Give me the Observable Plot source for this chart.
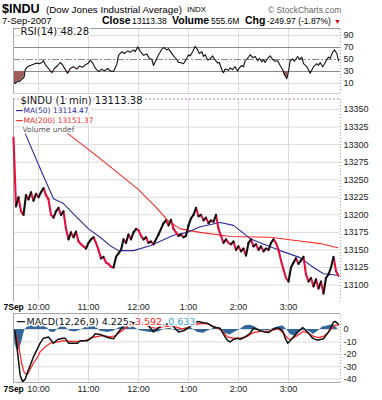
<!DOCTYPE html>
<html><head><meta charset="utf-8">
<script src="https://cdn.jsdelivr.net/npm/d3@7"></script>
<script src="https://cdn.jsdelivr.net/npm/@observablehq/plot@0.6"></script>
<style>
body{margin:0;background:#fff;width:382px;height:400px;overflow:hidden;font-family:"Liberation Sans",Arial,sans-serif;color:#000}
#hdr{position:relative;height:27px}
#hdr span{position:absolute;white-space:nowrap;line-height:1}
svg{display:block}
</style></head><body>
<div id="hdr">
<span style="left:2px;top:2.6px;font-size:12.5px;font-weight:bold">$INDU</span>
<span style="left:46px;top:5px;font-size:9.8px">(Dow Jones Industrial Average)</span>
<span style="left:187px;top:6.3px;font-size:8px">INDX</span>
<span style="left:268px;top:5.5px;font-size:8.5px;color:#666">© StockCharts.com</span>
<span style="left:2px;top:16px;font-size:9.5px">7-Sep-2007</span>
<span style="left:102px;top:15.3px;font-size:10.5px;font-weight:bold">Close</span>
<span style="left:132px;top:17px;font-size:8.5px">13113.38</span>
<span style="left:172px;top:15.3px;font-size:10.5px;font-weight:bold">Volume</span>
<span style="left:211px;top:17px;font-size:8.5px">555.6M</span>
<span style="left:245px;top:15.3px;font-size:10.5px;font-weight:bold">Chg</span>
<span style="left:267px;top:17px;font-size:8.5px">-249.97 (-1.87%)</span>
<span style="left:334px;top:17.5px;font-size:7px;color:#d00">▼</span>
</div>
<div id="c"></div>
<script>
// ---------- data ----------
const hours = [30, 90, 150, 210, 270, 330];           // minutes after 9:30 open
const hourLabels = ["10:00", "11:00", "12:00", "1:00", "2:00", "3:00"];
const dayLabel = "7Sep";

const priceTicks = [13100, 13125, 13150, 13175, 13200, 13225, 13250, 13275, 13300, 13325, 13350];
const rsiTicks = [90, 70, 50, 30, 10];
const macdTicks = [0, -10, -20, -30, -40];

// price, sampled every 3 minutes from the open (first value = opening print)
const priceStep = 3;
const priceClose = [
  13310, 13212, 13225, 13205, 13200, 13228, 13222, 13232, 13220, 13230,
  13225, 13232, 13238, 13228, 13222, 13200, 13196, 13205, 13210, 13200,
  13205, 13180, 13165, 13175, 13168, 13176, 13162, 13158, 13155, 13152,
  13160, 13165, 13168, 13160, 13150, 13138, 13140, 13132, 13130, 13126,
  13125, 13140, 13145, 13150, 13165, 13160, 13172, 13165, 13175, 13180,
  13178, 13170, 13165, 13168, 13160, 13162, 13158, 13165, 13172, 13180,
  13188, 13192, 13185, 13193, 13180, 13175, 13170, 13172, 13168, 13170,
  13185, 13195, 13200, 13210, 13198, 13200, 13192, 13196, 13188, 13192,
  13190, 13200, 13180, 13170, 13160, 13165, 13160, 13158, 13162, 13150,
  13155, 13148, 13152, 13142, 13160, 13165, 13155, 13158, 13150, 13155,
  13148, 13152, 13150, 13160, 13165, 13160, 13150, 13135, 13122, 13110,
  13105, 13125, 13132, 13138, 13130, 13135, 13140, 13115, 13105, 13110,
  13098, 13108, 13095, 13105, 13088, 13110, 13115, 13125, 13140, 13120,
  13113
];

const ma50Minute = [14, 32, 48, 60, 74, 90, 104, 116, 126, 144, 164, 192, 209, 224, 248, 264, 284, 305, 320, 344, 360, 372, 389];
const ma50Value  = [13316, 13266, 13223, 13216, 13199, 13180, 13168, 13156, 13149, 13149, 13156, 13171, 13175, 13183, 13189, 13185, 13166, 13156, 13149, 13139, 13125, 13116, 13114];

const ma200Minute = [65, 104, 149, 170, 185, 200, 224, 260, 308, 341, 368, 389];
const ma200Value  = [13316, 13280, 13237, 13212, 13192, 13180, 13175, 13169, 13168, 13163, 13159, 13153];

const rsiMinute = [
  1, 2, 5, 7, 10, 12, 13, 14, 17, 20,
  24, 28, 31, 34, 36, 38, 42, 46, 49, 53,
  56, 59, 61, 65, 68, 72, 76, 79, 83, 86,
  90, 92, 95, 98, 102, 106, 109, 113, 116, 120,
  124, 126, 130, 133, 137, 140, 144, 146, 149, 152,
  156, 160, 163, 166, 168, 172, 175, 178, 180, 184,
  186, 188, 192, 196, 198, 200, 204, 208, 210, 212,
  215, 218, 221, 223, 226, 228, 230, 233, 236, 239,
  241, 245, 247, 250, 252, 254, 258, 260, 263, 266,
  269, 271, 274, 276, 278, 281, 284, 287, 290, 293,
  295, 298, 300, 302, 305, 308, 311, 314, 317, 320,
  323, 325, 328, 330, 332, 335, 337, 341, 343, 346,
  348, 352, 354, 356, 360, 364, 366, 368, 371, 373,
  376, 378, 380, 383, 385, 388, 390
];
const rsiValue = [
  12, 10, 14, 13, 17, 19, 22, 33, 38, 40,
  42, 44, 43, 45, 48, 42, 35, 28, 35, 40,
  45, 41, 36, 27, 35, 38, 34, 39, 37, 41,
  44, 49, 44, 36, 30, 34, 31, 35, 31, 30,
  42, 57, 63, 60, 64, 62, 66, 63, 71, 64,
  57, 59, 52, 50, 40, 52, 60, 67, 70, 66,
  68, 64, 56, 50, 45, 45, 43, 52, 58, 56,
  63, 72, 66, 60, 63, 55, 58, 49, 51, 56,
  51, 44, 45, 33, 28, 34, 32, 36, 33, 38,
  31, 36, 40, 38, 48, 52, 58, 53, 55, 48,
  52, 46, 50, 45, 52, 56, 50, 47, 48, 40,
  33, 25, 18, 30, 48, 51, 47, 55, 50, 54,
  43, 38, 33, 27, 38, 43, 40, 45, 38, 42,
  50, 54, 52, 62, 66, 60, 48
];

const macdMinute = [0, 2, 5, 8, 11, 14, 17, 20, 24, 29, 32, 36, 42, 48, 53, 59, 62, 66, 72, 77, 80, 89, 95, 98, 104, 108, 113, 120, 126, 131, 134, 140, 146, 152, 156, 162, 168, 176, 182, 188, 194, 198, 204, 209, 216, 222, 228, 233, 240, 248, 253, 257, 260, 264, 269, 272, 278, 284, 288, 293, 296, 302, 306, 311, 317, 323, 326, 329, 332, 336, 341, 347, 353, 359, 362, 366, 372, 378, 382, 384, 386, 390];
const macdValue  = [0, -2, -19, -37, -42, -40, -34, -29, -22, -15, -11, -7, -6, -11, -8, -7, -7, -11, -11, -11, -9, -9, -6, -3.5, -4, -5, -6.5, -7.5, -2, 2, 5, 6, 5, 5, 5, 3, -2, 2.5, 4, 5, 1, -2, -1, 1, 5, 6.5, 5.5, 5, 2, 1, -5, -9, -10, -8, -7, -8, -6, -3, 1, 0, -1, -2, -2.5, 0, 1.5, -1, -7, -11, -9, -6, -2, 1.5, -2, -7, -8, -8.5, -7.5, -2, 3, 6, 6.5, 4.2];

const signalMinute = [0, 2, 6, 10, 13, 17, 20, 24, 29, 32, 38, 44, 53, 60, 68, 77, 86, 92, 101, 108, 116, 122, 128, 137, 144, 152, 158, 164, 170, 176, 182, 191, 197, 203, 210, 218, 224, 233, 240, 248, 253, 257, 263, 272, 281, 288, 296, 305, 311, 318, 324, 329, 332, 338, 348, 354, 360, 366, 372, 377, 382, 386, 390];
const signalValue  = [0, -2, -12, -28, -35, -36, -32, -27, -22, -18, -14, -11, -10, -9, -9.5, -9.5, -9, -7, -5.5, -5, -6, -5, -2, 2.5, 4.5, 4, 3.5, 2, 1, 1.5, 2.5, 3, 1.5, 0.5, 1.5, 4, 5, 4.5, 2.5, 0, -3, -6, -7, -7, -5.5, -2.5, -1.5, -1.5, -0.5, 0.5, -3, -7, -8, -6, -1.5, -3, -5.5, -6.5, -5.5, -3, 1, 3.5, 3.6];

const histMinute = [0, 2, 5, 7, 10, 12, 14, 18, 26, 35, 41, 44, 49, 53, 56, 62, 68, 74, 80, 89, 96, 101, 104, 113, 120, 126, 132, 138, 144, 152, 164, 174, 180, 188, 194, 200, 206, 212, 221, 228, 234, 242, 248, 254, 260, 266, 272, 278, 284, 290, 296, 306, 314, 323, 328, 332, 338, 344, 350, 356, 360, 366, 371, 378, 384, 389];
const histValue  = [0, -12, -18, -16, -10, -4, 0, 3, 4, 3.5, 1, -2, -2.5, 0, 2.5, 2, -1.5, -2, -0.5, 2.5, 3, 1, -1.5, -2.5, -1.5, 1, 3, 3, 2, -1, -2.5, -2, 0, 1, -1, -1, 1, 2, -2.5, -3, -1, 1.5, 1, -3, -4.5, -2, 0, 3, 3.5, 2, -0.5, -1, 1.5, 3, 0, -4, -5.5, -2, 0.5, -2, -4, -1, 2, 3, 4, 0.6];

const rsiLabel = "RSI(14) 48.28";
const priceLabel = "$INDU (1 min) 13113.38";
const ma50Label = "MA(50) 13114.47";
const ma200Label = "MA(200) 13151.37";
const volLabel = "Volume undef";
const macdParts = ["MACD(12,26,9) 4.225", ", 3.592", ", 0.633"];

// ---------- styling ----------
const XD = [0, 392.4];
const xOpt = {domain: XD, range: [13, 340], axis: null};
const axFont = "Liberation Sans, Arial, sans-serif";
const lblFont = "DejaVu Sans, Verdana, sans-serif";
const grid = "#dcdcdc";
const upC = "#111", downC = "#e3103c", ma50C = "#2b2b9c", ma200C = "#ff2a2a", macdRed = "#ff2020", macdBlue = "#3aa0dd", histC = "#336699";
const style = {fontFamily: axFont, fontSize: "9px", background: "white", overflow: "visible"};

function frameMarks(lo, hi, opts = {}) {
  return [
    Plot.ruleX([XD[0]], {y1: lo, y2: hi, stroke: "#a8a8a8"}),
    Plot.ruleX([XD[1]], {y1: lo, y2: hi, stroke: "#aaa", strokeDasharray: "1,2"}),
    ...(opts.top ? [Plot.ruleY([hi], {x1: XD[0], x2: XD[1], stroke: opts.top})] : []),
    ...(opts.bottom ? [Plot.ruleY([lo], {x1: XD[0], x2: XD[1], stroke: opts.bottom})] : [])
  ];
}
function yLabels(ticks) {
  return Plot.text(ticks, {x: XD[1], y: d => d, text: d => String(d), textAnchor: "start", dx: 3, fill: "#222", fontSize: 9});
}
function xLabels(dy) {
  return [
    Plot.text(hours, {x: d => d, frameAnchor: "bottom", dy, text: (d, i) => hourLabels[i], fill: "#222", fontSize: 9}),
    Plot.text([dayLabel], {x: XD[0], frameAnchor: "bottom", dy, dx: -10, textAnchor: "start", text: d => d, fontWeight: "bold", fontSize: 8.5, fill: "#000"})
  ];
}
const halo = {stroke: "white", strokeWidth: 3, fontFamily: lblFont, textAnchor: "start", lineAnchor: "middle", frameAnchor: "top-left"};

// ---------- RSI panel ----------
const rsiD = rsiMinute.map((t, i) => ({t, v: rsiValue[i]}));
const rLo = -6.67, rHi = 101.67;
const rsiPlot = Plot.plot({
  width: 382, height: 71, margin: 0, style,
  x: xOpt, y: {domain: [rLo, rHi], range: [66, 1], axis: null},
  marks: [
    Plot.ruleX(hours, {y1: rLo, y2: rHi, stroke: grid}),
    Plot.ruleY([10, 90], {x1: XD[0], x2: XD[1], stroke: grid}),
    Plot.ruleY([30, 70], {x1: XD[0], x2: XD[1], stroke: "#8a8a8a"}),
    Plot.ruleY([50], {x1: XD[0], x2: XD[1], stroke: "#8a8a8a", strokeDasharray: "7,2,2,2"}),
    Plot.areaY(rsiD, {x: "t", y1: 30, y2: d => Math.min(d.v, 30), fill: "#9e5d5d"}),
    Plot.line(rsiD, {x: "t", y: "v", stroke: "#111", strokeWidth: 1.1}),
    ...frameMarks(rLo, rHi, {top: "#999", bottom: "#d0d0d0"}),
    yLabels(rsiTicks),
    Plot.text([rsiLabel], {...halo, dx: 20, dy: 4.5, fontSize: 10, fill: "#111", text: d => d})
  ]
});

// ---------- price panel ----------
const pLo = 13076.5, pHi = 13365.7;
const priceD = priceClose.map((p, i) => ({t: i * priceStep, p}));
const segs = d3.pairs(priceD, (a, b) => ({t1: a.t, p1: a.p, t2: b.t, p2: b.p, up: b.p >= a.p}));
const ma50D = ma50Minute.map((t, i) => ({t, p: ma50Value[i]}));
const ma200D = ma200Minute.map((t, i) => ({t, p: ma200Value[i]}));
const linkOpt = {x1: "t1", y1: "p1", x2: "t2", y2: "p2", strokeWidth: 2.1, strokeLinecap: "round"};
const mainPlot = Plot.plot({
  width: 382, height: 215, margin: 0, style,
  x: xOpt, y: {domain: [pLo, pHi], range: [203, 0], axis: null},
  marks: [
    Plot.ruleX(hours, {y1: pLo, y2: pHi, stroke: grid}),
    Plot.ruleY(priceTicks, {x1: XD[0], x2: XD[1], stroke: grid}),
    ...frameMarks(pLo, pHi),
    Plot.ruleY([pHi - 0.8], {x1: XD[0], x2: XD[1], stroke: "#c27ac2", strokeDasharray: "2,2"}),
    Plot.line(ma200D, {x: "t", y: "p", stroke: ma200C, strokeWidth: 1.1}),
    Plot.line(ma50D, {x: "t", y: "p", stroke: ma50C, strokeWidth: 1.1}),
    Plot.link(segs.filter(d => !d.up), {...linkOpt, stroke: downC}),
    Plot.link(segs.filter(d => d.up), {...linkOpt, stroke: upC}),
    yLabels(priceTicks),
    ...xLabels(-4),
    Plot.text([priceLabel], {...halo, strokeWidth: 4, dx: 20, dy: 2.5, fontSize: 10, fill: "#111", text: d => d}),
    Plot.text(["—"], {...halo, dx: 15, dy: 12, fontSize: 8, fontWeight: "bold", fill: ma50C, text: d => d}),
    Plot.text([ma50Label], {...halo, dx: 23, dy: 12, fontSize: 7.5, fill: ma50C, text: d => d}),
    Plot.text(["—"], {...halo, dx: 15, dy: 22, fontSize: 8, fontWeight: "bold", fill: ma200C, text: d => d}),
    Plot.text([ma200Label], {...halo, dx: 23, dy: 22, fontSize: 7.5, fill: ma200C, text: d => d}),
    Plot.text([volLabel], {...halo, dx: 22, dy: 31, fontSize: 7.5, fill: "#555", text: d => d})
  ]
});

// ---------- MACD panel ----------
const mLo = -42.7, mHi = 12.9;
const macdD = macdMinute.map((t, i) => ({t, v: macdValue[i]}));
const sigD = signalMinute.map((t, i) => ({t, v: signalValue[i]}));
const histD = histMinute.map((t, i) => ({t, v: histValue[i]}));
const ctx = document.createElement("canvas").getContext("2d");
ctx.font = '9.5px "DejaVu Sans"';
const partColors = ["#111", macdRed, macdBlue];
let off = 26;
const partMarks = macdParts.map((s, i) => {
  const m = Plot.text([s], {...halo, dx: off, dy: 8, fontSize: 9.5, fill: partColors[i], text: d => d});
  off += ctx.measureText(s).width;
  return m;
});
const macdPlot = Plot.plot({
  width: 382, height: 87, margin: 0, style,
  x: xOpt, y: {domain: [mLo, mHi], range: [69, 0], axis: null},
  marks: [
    Plot.ruleX(hours, {y1: mLo, y2: mHi, stroke: grid}),
    Plot.ruleY(macdTicks, {x1: XD[0], x2: XD[1], stroke: grid}),
    Plot.areaY(histD, {x: "t", y: "v", fill: histC}),
    Plot.line(sigD, {x: "t", y: "v", stroke: macdRed, strokeWidth: 1.2}),
    Plot.line(macdD, {x: "t", y: "v", stroke: "#111", strokeWidth: 1.5}),
    ...frameMarks(mLo, mHi, {top: "#a8a8a8", bottom: "#a8a8a8"}),
    yLabels(macdTicks),
    ...xLabels(-9),
    Plot.text(["—"], {...halo, dx: 16, dy: 8, fontSize: 9, fontWeight: "bold", fill: "#111", text: d => d}),
    ...partMarks
  ]
});

const c = document.getElementById("c");
c.append(rsiPlot, mainPlot, macdPlot);
</script></body></html>
